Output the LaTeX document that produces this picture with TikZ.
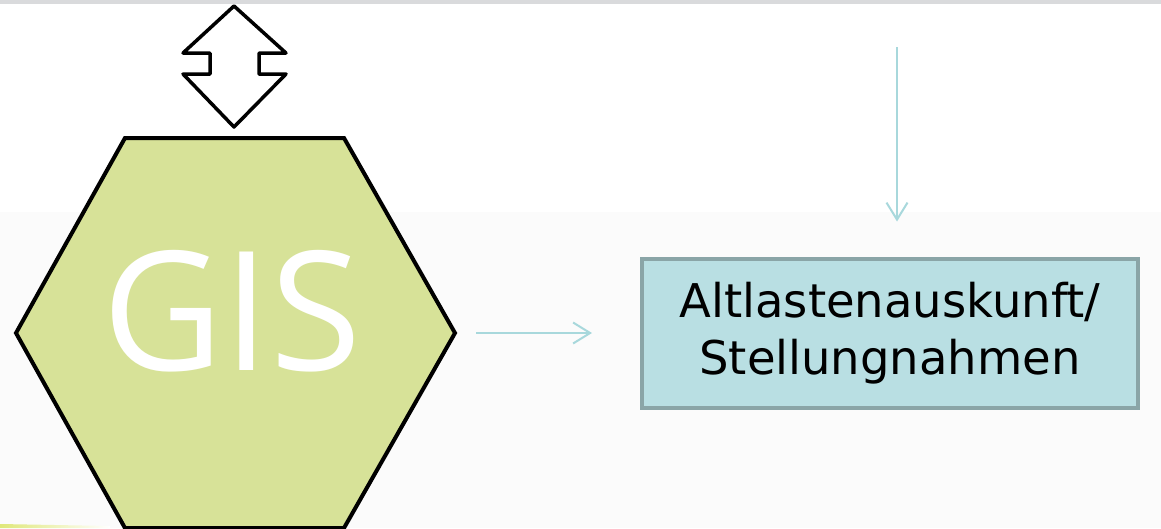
\documentclass[tikz,border=0pt]{standalone}
\usepackage{fontspec}
\setmainfont{DejaVu Sans}
\newfontfamily\gisfont{Open Sans}
\usetikzlibrary{arrows.meta}
\definecolor{topbar}{RGB}{217,218,220}
\definecolor{lowbg}{RGB}{251,251,251}
\definecolor{hexgreen}{RGB}{215,226,152}
\definecolor{tealline}{RGB}{168,216,220}
\definecolor{boxfill}{RGB}{185,223,227}
\definecolor{boxedge}{RGB}{138,165,167}
\tikzset{
  flowarrow/.style={draw=tealline, line width=2pt, -{Straight Barb[length=17pt,width=21pt,line width=2pt]}},
  infobox/.style={draw=boxedge, line width=4pt, fill=boxfill, minimum width=496pt, minimum height=149pt, inner sep=0pt, align=center, font=\fontsize{46.5}{57}\selectfont},
  hexshape/.style={draw=black, line width=4pt, fill=hexgreen, line join=miter},
  blockarrow/.style={draw=black, line width=3.5pt, fill=white, line join=round}
}
\begin{document}
\begin{tikzpicture}[x=1pt,y=-1pt]
\useasboundingbox (0,0) rectangle (1161,528);
% background
\fill[white] (0,0) rectangle (1161,528);
\fill[lowbg] (0,212) rectangle (1161,528);
\fill[topbar] (0,0) rectangle (1161,4);
\shade[left color=hexgreen!80!yellow, right color=white] (0,524) -- (110,526) -- (110,528) -- (0,528) -- cycle;
% hexagon
\coordinate (hexTL) at (125,138);
\coordinate (hexTR) at (344,138);
\coordinate (hexR) at (455,333);
\coordinate (hexBR) at (344,528);
\coordinate (hexBL) at (125,528);
\coordinate (hexL) at (16,333);
\path[hexshape] (hexTL) -- (hexTR) -- (hexR) -- (hexBR) -- (hexBL) -- (hexL) -- cycle;
\node[text=white, font=\gisfont\fontsize{166}{166}\selectfont, inner sep=0pt, anchor=base] (gis) at (232,370) {GIS};
% double block arrow
\coordinate (dtop) at (234,6);
\coordinate (dbot) at (234,127);
\path[blockarrow] (dtop) -- (286,53) -- (259,53) -- (259,74) -- (286,74) -- (dbot)
  -- (183,74) -- (210,74) -- (210,53) -- (183,53) -- cycle;
% box
\node[infobox] (box) at (890,333) {Altlastenauskunft/\\Stellungnahmen};
% connectors
\coordinate (vtop) at (897,47);
\draw[flowarrow, shorten >=35pt] (vtop) -- (vtop |- box.north);
\draw[flowarrow, shorten <=21pt, shorten >=48pt] (hexR) -- (box.west);
\end{tikzpicture}
\end{document}
